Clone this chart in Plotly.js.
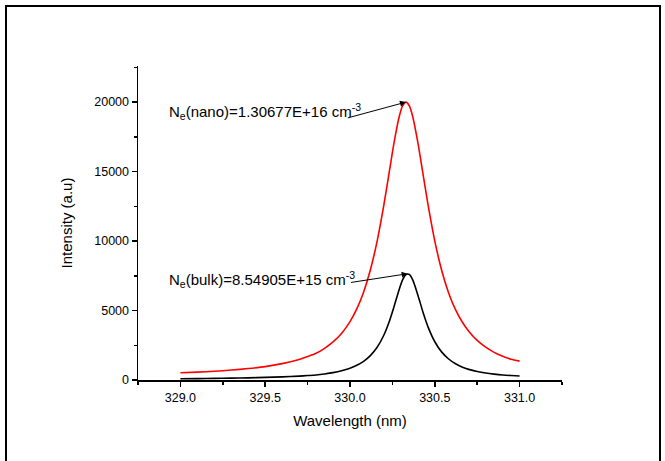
<!DOCTYPE html>
<html>
<head>
<meta charset="utf-8">
<script src="https://cdn.plot.ly/plotly-3.0.1.min.js"></script>
<style>
  html, body { margin: 0; padding: 0; background: #fff; }
  #chart { position: absolute; left: 0; top: 0; width: 665px; height: 461px; }
  #frame { position: absolute; left: 5px; top: 5px; width: 652px; height: 470px;
           border: 2px solid #000; pointer-events: none; }
</style>
</head>
<body>
<div id="chart"></div>
<div id="frame"></div>
<script>
// Emission line profiles: wavelength (nm) vs intensity (a.u)
const wavelength = [
  329.0, 329.1, 329.2, 329.3, 329.4, 329.5, 329.6, 329.7, 329.75, 329.8,
  329.85, 329.9, 329.95, 330.0, 330.04, 330.08, 330.12, 330.16, 330.2, 330.23,
  330.26, 330.29, 330.31, 330.33, 330.35, 330.37, 330.4, 330.43, 330.46, 330.5,
  330.54, 330.58, 330.62, 330.66, 330.7, 330.75, 330.8, 330.85, 330.9, 330.95, 331.0
];
const intensityNano = [
  520, 570, 630, 715, 825, 965, 1180, 1480, 1690, 1925,
  2280, 2740, 3350, 4200, 5115, 6323, 7918, 10000, 12618, 14859,
  17100, 18950, 19727, 20000, 19727, 18950, 17100, 14859, 12618, 10000,
  7918, 6323, 5115, 4210, 3510, 2850, 2360, 1990, 1710, 1490, 1360
];
const intensityBulk = [
  90, 101, 116, 134, 156, 188, 226, 280, 319, 360,
  433, 530, 662, 847, 1055, 1343, 1754, 2354, 3240, 4158,
  5297, 6518, 7200, 7597, 7597, 7200, 6120, 4896, 3825, 2754,
  2025, 1530, 1187, 943, 765, 610, 500, 420, 360, 320, 290
];
const peakNano = { x: 330.33, y: 20000 };
const peakBulk = { x: 330.34, y: 7650 };
const labelNano = 'N<sub>e</sub>(nano)=1.30677E+16 cm<sup>-3</sup>';
const labelBulk = 'N<sub>e</sub>(bulk)=8.54905E+15 cm<sup>-3</sup>';

const FONT = 'Liberation Sans, Arial, sans-serif';

const traces = [
  { x: wavelength, y: intensityNano, type: 'scatter', mode: 'lines',
    line: { color: '#ff0000', width: 1.6, shape: 'spline', smoothing: 0.6 }, name: 'nano' },
  { x: wavelength, y: intensityBulk, type: 'scatter', mode: 'lines',
    line: { color: '#000000', width: 1.6, shape: 'spline', smoothing: 0.6 }, name: 'bulk' }
];

function arrowTo(peak, tailX, tailY) {
  return { x: peak.x, y: peak.y, xref: 'x', yref: 'y', ax: tailX, ay: tailY,
           axref: 'x', ayref: 'y', text: '', showarrow: true,
           arrowhead: 2, arrowsize: 1.2, arrowwidth: 1, arrowcolor: '#000', standoff: 0 };
}
function label(text, x, y) {
  return { x: x, y: y, xref: 'x', yref: 'y', text: text, showarrow: false,
           xanchor: 'left', yanchor: 'middle', font: { family: FONT, size: 15, color: '#000' } };
}

const layout = {
  width: 665, height: 461,
  margin: { l: 138, r: 103, t: 66, b: 81 },
  paper_bgcolor: '#fff', plot_bgcolor: '#fff',
  showlegend: false,
  font: { family: FONT, color: '#000' },
  xaxis: {
    range: [328.75, 331.25], tickmode: 'linear', tick0: 329, dtick: 0.5, tickformat: '.1f',
    ticks: 'outside', ticklen: 5, tickwidth: 1.5, tickcolor: '#000',
    showline: true, linewidth: 1.5, linecolor: '#000', mirror: false,
    showgrid: false, zeroline: false,
    tickfont: { family: FONT, size: 12.5, color: '#000' },
    minor: { tick0: 329, dtick: 0.25, ticks: 'outside', ticklen: 3, tickwidth: 1.5, tickcolor: '#000', showgrid: false },
    title: { text: 'Wavelength (nm)', font: { family: FONT, size: 15, color: '#000' }, standoff: 12 }
  },
  yaxis: {
    range: [0, 22600], tickmode: 'linear', tick0: 0, dtick: 5000, tickformat: 'd',
    ticks: 'outside', ticklen: 5, tickwidth: 1.5, tickcolor: '#000',
    showline: true, linewidth: 1.5, linecolor: '#000',
    showgrid: false, zeroline: false,
    tickfont: { family: FONT, size: 12.5, color: '#000' },
    minor: { tick0: 0, dtick: 2500, ticks: 'outside', ticklen: 3, tickwidth: 1.5, tickcolor: '#000', showgrid: false },
    title: { text: 'Intensity (a.u)', font: { family: FONT, size: 15, color: '#000' }, standoff: 18 }
  },
  annotations: [
    label(labelNano, 328.92, 19310),
    arrowTo(peakNano, 329.978, 18835),
    label(labelBulk, 328.92, 7233),
    arrowTo(peakBulk, 329.997, 7003)
  ]
};

Plotly.newPlot('chart', traces, layout, { staticPlot: true, displayModeBar: false });
</script>
</body>
</html>
